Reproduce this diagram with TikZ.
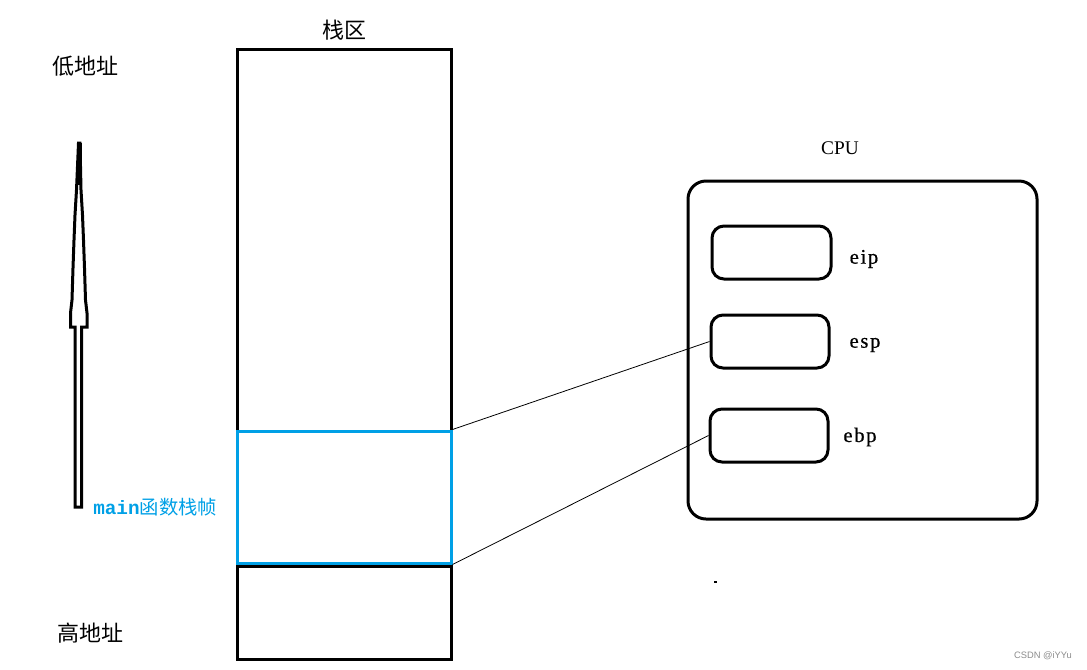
\documentclass[tikz,border=0pt]{standalone}
\usepackage{fontspec}
\setmainfont{Liberation Serif}
\newfontfamily\cjk{Noto Sans CJK SC}
\newfontfamily\regfont[LetterSpace=8,FakeBold=0.6]{Liberation Serif}
\newfontfamily\monofont{Liberation Mono}
\newfontfamily\wmfont{Liberation Sans}
\definecolor{frameblue}{RGB}{0,160,230}
\begin{document}
\begin{tikzpicture}[x=0.75pt,y=-0.75pt,
  thick3/.style={line width=2.25pt},
  plainbox/.style={draw,thick3,inner sep=0pt,minimum width=160.5pt},
  regbox/.style={draw,thick3,rounded corners=9pt,inner sep=0pt,minimum height=39.75pt},
  cjklabel/.style={font=\cjk\fontsize{16.5}{18}\selectfont,inner sep=0pt},
  reglabel/.style={font=\regfont\fontsize{15.5}{17}\selectfont,inner sep=0pt},
  link/.style={line width=0.6pt}]
\useasboundingbox (0,0) rectangle (1087,669);
% stack
\node[plainbox,minimum height=457.5pt] (stack) at (344,354) {};
\node[cjklabel] (stacklabel) at (344,30) {栈区};
\coordinate (divL) at (237,566);
\coordinate (divR) at (451,566);
\draw[thick3] (divL) -- (divR);
\node[plainbox,draw=frameblue,minimum height=99pt] (frame) at (344,497) {};
\node[inner sep=0pt,text=frameblue,font=\fontsize{14.5}{16}\selectfont,anchor=west] (framelabel) at (93,507) {{\monofont\bfseries main}{\cjk 函数栈帧}};
% addresses
\node[cjklabel] (low) at (85,66) {低地址};
\node[cjklabel] (high) at (90,633) {高地址};
% arrow
\draw[thick3,fill=white,line join=miter]
  (78.5,143) -- (80,143) -- (81,190) -- (82.5,215) -- (83.5,240) -- (84.5,268) -- (85.5,300)
  -- (87,313) -- (87,327) -- (81.5,327) -- (81.5,507) -- (75,507) -- (75,327)
  -- (70.5,327) -- (70.5,313) -- (72,300) -- (73,268) -- (74,240) -- (75,215) -- (76.5,190) -- cycle;
\fill (77,143) rectangle (81.5,185);
% CPU
\node[font=\fontsize{14.5}{16}\selectfont,inner sep=0pt] (cpulabel) at (840,148) {CPU};
\node[draw,thick3,rounded corners=13.5pt,minimum width=261.75pt,minimum height=253.5pt,inner sep=0pt] (cpu) at (862.5,350) {};
\node[regbox,minimum width=89.25pt] (eip) at (771.5,252.5) {};
\node[regbox,minimum width=88.5pt] (esp) at (770,341.5) {};
\node[regbox,minimum width=88.5pt] (ebp) at (769,435.5) {};
\node[reglabel] (eiplabel) at (864,259) {eip};
\node[reglabel] (esplabel) at (865,345) {esp};
\node[reglabel] (ebplabel) at (860,437) {ebp};
% links
\draw[link] (frame.north east) -- (esp.west);
\draw[link] (frame.south east) -- (ebp.west);
% stray dot
\fill (714,581) rectangle (717,583);
% watermark
\node[font=\wmfont\fontsize{7}{8}\selectfont,text=black!45,inner sep=0pt] (wm) at (1043,656) {CSDN @iYYu};
\end{tikzpicture}
\end{document}
